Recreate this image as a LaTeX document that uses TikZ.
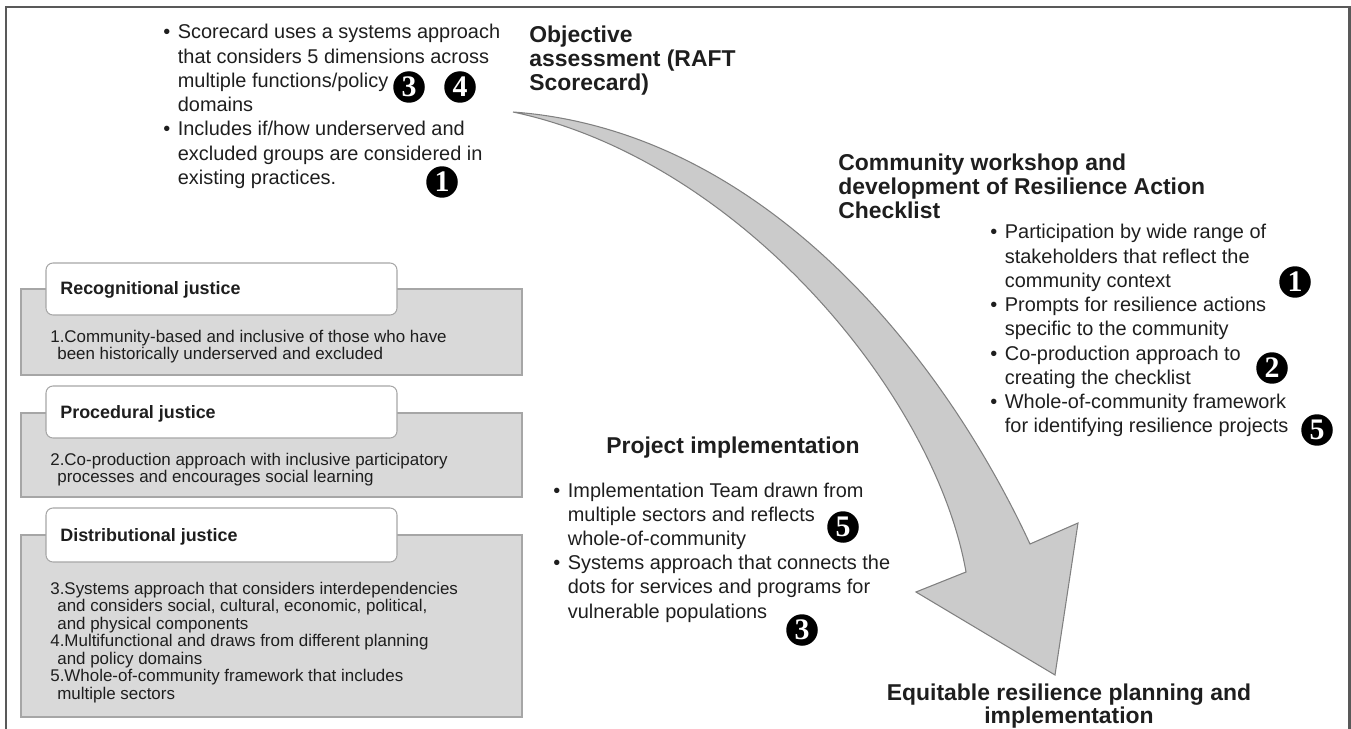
\documentclass[tikz,border=0pt]{standalone}
\usepackage{fontspec}
\setmainfont{Liberation Sans}
\newfontfamily\numfont{Liberation Serif}
\usepackage{xcolor}
\usetikzlibrary{positioning}

\definecolor{framegray}{HTML}{595959}
\definecolor{ink}{HTML}{1E1E1E}
\definecolor{panelfill}{HTML}{D9D9D9}
\definecolor{panelline}{HTML}{A6A6A6}
\definecolor{arrowfill}{HTML}{CBCBCB}
\definecolor{arrowline}{HTML}{808080}

%% bullet list and plain line stack, first baseline on top
\newcommand{\bullist}[1]{\begin{tabular}[t]{@{}l@{\hspace{4.3pt}}l@{}}#1\end{tabular}}
\newcommand{\lines}[1]{\begin{tabular}[t]{@{}l@{}}#1\end{tabular}}

\begin{document}
\begin{tikzpicture}[
  x=0.02cm, y=-0.02cm,
  every node/.style={text=ink, inner sep=0pt},
  listtxt/.style={anchor=base west, font=\fontsize{11.34}{13.8}\selectfont},
  headtxt/.style={anchor=base west, font=\bfseries\fontsize{13.04}{13.5}\selectfont},
  boxhead/.style={anchor=base west, font=\bfseries\fontsize{10.2}{12}\selectfont},
  boxbody/.style={anchor=base west, font=\fontsize{9.64}{9.92}\selectfont},
  greybox/.style={draw=panelline, fill=panelfill, line width=0.6pt},
  whitebox/.style={draw=panelline, fill=white, line width=0.6pt, rounded corners=4pt},
  badge/.style={circle, fill=black, text=white, minimum size=0.63cm,
    font=\numfont\bfseries\fontsize{17}{17}\selectfont},
  bigarrow/.style={fill=arrowfill, draw=arrowline, line width=0.6pt, line join=miter},
  frameline/.style={draw=framegray, line width=1.7pt},
]
\useasboundingbox (0,0) rectangle (1351,729);

%% ── outer frame (open at the bottom) ─────────────────────────────────────
\draw[frameline] (6,729) -- (6,7) -- (1349,7) -- (1349,729);

%% ── big curved arrow ─────────────────────────────────────────────────────
\coordinate (tail)  at (513,112);
\coordinate (outsh) at (1030,544);
\coordinate (insh)  at (966,572);
\coordinate (rbarb) at (1078,523);
\coordinate (lbarb) at (916,592);
\coordinate (tip)   at (1055,675);
\filldraw[bigarrow] (tail) .. controls (760,130) and (940,350) .. (outsh)
  -- (rbarb) -- (tip) -- (lbarb) -- (insh)
  .. controls (935,395) and (740,160) .. (tail) -- cycle;

%% ── Objective assessment ─────────────────────────────────────────────────
\node[listtxt] (scorelist) at (163,39) {\bullist{
  • & Scorecard uses a systems approach\\
    & that considers 5 dimensions across\\
    & multiple functions/policy\\
    & domains\\
  • & Includes if/how underserved and\\
    & excluded groups are considered in\\
    & existing practices.}};
\node[headtxt] (objhead) at (529,43) {\lines{Objective\\assessment (RAFT\\Scorecard)}};
\node[badge] (sc3) at (409,87) {3};
\node[badge] (sc4) at (460,87) {4};
\node[badge] (sc1) at (442,182) {1};

%% ── Community workshop ───────────────────────────────────────────────────
\node[headtxt] (commhead) at (838,171)
  {\lines{Community workshop and\\development of Resilience Action\\Checklist}};
\node[listtxt] (commlist) at (990,239) {\bullist{
  • & Participation by wide range of\\
    & stakeholders that reflect the\\
    & community context\\
  • & Prompts for resilience actions\\
    & specific to the community\\
  • & Co-production approach to\\
    & creating the checklist\\
  • & Whole-of-community framework\\
    & for identifying resilience projects}};
\node[badge] (cw1) at (1295,282) {1};
\node[badge] (cw2) at (1272,368) {2};
\node[badge] (cw5) at (1317,430) {5};

%% ── Project implementation ───────────────────────────────────────────────
\node[headtxt] (projhead) at (606,453) {Project implementation};
\node[listtxt] (projlist) at (553,497) {\bullist{
  • & Implementation Team drawn from\\
    & multiple sectors and reflects\\
    & whole-of-community\\
  • & Systems approach that connects the\\
    & dots for services and programs for\\
    & vulnerable populations}};
\node[badge] (pi5) at (843,527) {5};
\node[badge] (pi3) at (802,630) {3};

%% ── Outcome ──────────────────────────────────────────────────────────────
\node[headtxt, anchor=base] (equit) at (1069,700)
  {\begin{tabular}[t]{@{}c@{}}Equitable resilience planning and\\implementation\end{tabular}};

%% ── Justice panels ───────────────────────────────────────────────────────
\draw[greybox] (21,289) rectangle (522,375);
\draw[whitebox] (46,263) rectangle (397,315);
\node[boxhead] (recog) at (60,295) {Recognitional justice};
\node[boxbody] (recogtxt) at (50,342) {\lines{
  1.Community-based and inclusive of those who have\\
  \hspace*{4pt}been historically underserved and excluded}};

\draw[greybox] (21,413) rectangle (522,497);
\draw[whitebox] (46,386) rectangle (397,438);
\node[boxhead] (proc) at (60,418) {Procedural justice};
\node[boxbody] (proctxt) at (50,465) {\lines{
  2.Co-production approach with inclusive participatory\\
  \hspace*{4pt}processes and encourages social learning}};

\draw[greybox] (21,535) rectangle (522,717);
\draw[whitebox] (46,508) rectangle (397,562);
\node[boxhead] (distr) at (60,541) {Distributional justice};
\node[boxbody] (distrtxt) at (50,594) {\lines{
  3.Systems approach that considers interdependencies\\
  \hspace*{4pt}and considers social, cultural, economic, political,\\
  \hspace*{4pt}and physical components\\
  4.Multifunctional and draws from different planning\\
  \hspace*{4pt}and policy domains\\
  5.Whole-of-community framework that includes\\
  \hspace*{4pt}multiple sectors}};

\end{tikzpicture}
\end{document}
